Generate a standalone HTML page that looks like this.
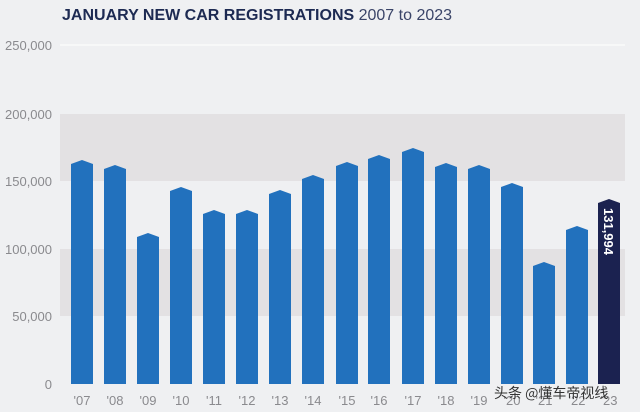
<!DOCTYPE html><html><head><style>body{margin:0;background:#eff0f2}</style></head><body>
<svg width="640" height="412" xmlns="http://www.w3.org/2000/svg" style="display:block;font-family:'Liberation Sans',sans-serif">
<rect width="640" height="412" fill="#eff0f2"/>
<rect x="60" y="114" width="565" height="67" fill="#e3e1e3"/>
<rect x="60" y="249" width="565" height="67" fill="#e3e1e3"/>
<line x1="60" y1="45" x2="625" y2="45" stroke="#fafafa" stroke-width="1.5"/>
<text x="62" y="20" font-size="16" font-weight="bold" fill="#1d2a52">JANUARY NEW CAR REGISTRATIONS <tspan font-weight="normal" fill="#3a4468">2007 to 2023</tspan></text>
<g font-size="13" fill="#8a8a8e" text-anchor="end">
<text x="52" y="50">250,000</text><text x="52" y="119">200,000</text><text x="52" y="186">150,000</text><text x="52" y="254">100,000</text><text x="52" y="321">50,000</text><text x="52" y="389">0</text></g>
<g fill="#2271bd">
<polygon points="71,384 71,164 82,160 93,164 93,384"/>
<polygon points="104,384 104,169 115,165 126,169 126,384"/>
<polygon points="137,384 137,237 148,233 159,237 159,384"/>
<polygon points="170,384 170,191 181,187 192,191 192,384"/>
<polygon points="203,384 203,214 214,210 225,214 225,384"/>
<polygon points="236,384 236,214 247,210 258,214 258,384"/>
<polygon points="269,384 269,194 280,190 291,194 291,384"/>
<polygon points="302,384 302,179 313,175 324,179 324,384"/>
<polygon points="336,384 336,166 347,162 358,166 358,384"/>
<polygon points="368,384 368,159 379,155 390,159 390,384"/>
<polygon points="402,384 402,152 413,148 424,152 424,384"/>
<polygon points="435,384 435,167 446,163 457,167 457,384"/>
<polygon points="468,384 468,169 479,165 490,169 490,384"/>
<polygon points="501,384 501,187 512,183 523,187 523,384"/>
<polygon points="533,384 533,266 544,262 555,266 555,384"/>
<polygon points="566,384 566,230 577,226 588,230 588,384"/>
</g>
<polygon points="598,384 598,203 609,199 620,203 620,384" fill="#1b2250"/>
<g font-size="13" fill="#8a8a8e" text-anchor="middle">
<text x="82" y="405">'07</text><text x="115" y="405">'08</text><text x="148" y="405">'09</text><text x="181" y="405">'10</text><text x="214" y="405">'11</text><text x="247" y="405">'12</text><text x="280" y="405">'13</text><text x="313" y="405">'14</text><text x="347" y="405">'15</text><text x="379" y="405">'16</text><text x="413" y="405">'17</text><text x="446" y="405">'18</text><text x="479" y="405">'19</text><text x="512" y="405">'20</text><text x="544" y="405">'21</text><text x="577" y="405">'22</text><text x="609" y="405">'23</text></g>
<text transform="translate(604,208) rotate(90)" font-size="13" font-weight="bold" fill="#fff">131,994</text>
<text x="494" y="398" font-size="14" fill="#333" font-family="'Noto Sans CJK SC',sans-serif">头条 @懂车帝视线</text>
</svg></body></html>
